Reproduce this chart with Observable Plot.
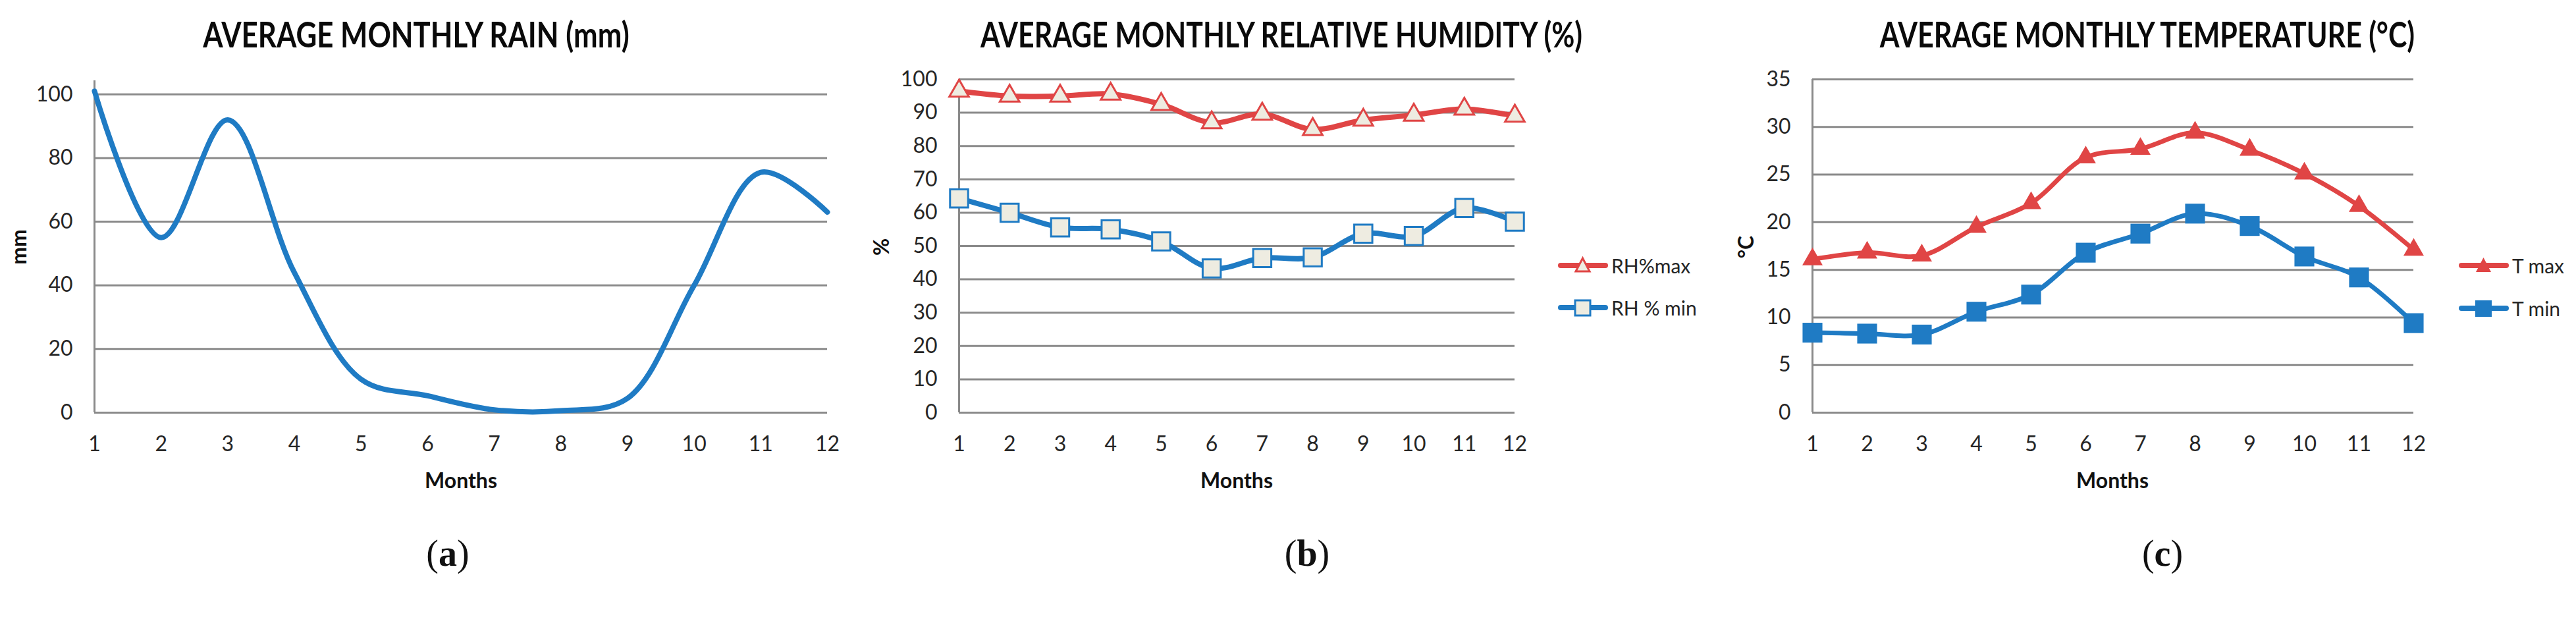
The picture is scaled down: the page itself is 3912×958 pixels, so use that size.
<!DOCTYPE html>
<html>
<head>
<meta charset="utf-8">
<script src="https://cdn.jsdelivr.net/npm/d3@7"></script>
<script src="https://cdn.jsdelivr.net/npm/@observablehq/plot@0.6"></script>
<style>
  body { margin: 0; background: #fff; }
  #fig { position: relative; width: 3912px; height: 958px; overflow: hidden; font-family: Lato, sans-serif; color: #262626; background: #fff; }
  .abs { position: absolute; transform: translate(-50%, -50%); white-space: nowrap; }
  .title { font-weight: bold; font-size: 54px; color: #0a0a0a; line-height: 1; }
  .axlab { font-weight: bold; font-size: 32px; color: #111; }
  .ylab { font-weight: bold; font-size: 32px; color: #111; transform: translate(-50%, -50%) rotate(-90deg); }
  .cap { font-family: "Liberation Serif", serif; font-size: 56px; color: #111; }
  .plot { position: absolute; top: 0; }
  .legend { position: absolute; display: flex; align-items: center; font-size: 30px; color: #262626; height: 40px; }
  .legend svg { display: block; margin-right: 5px; }
</style>
</head>
<body>
<div id="fig"></div>
<script>
// ---- data ----
const months = [1, 2, 3, 4, 5, 6, 7, 8, 9, 10, 11, 12];
const rain = [101, 55, 92, 44, 10.5, 5.3, 0.9, 0.6, 4.5, 40, 75.5, 63];
const rhMax = [96.5, 95, 95, 95.6, 92.5, 87, 89.6, 85, 87.8, 89.3, 91.1, 89];
const rhMin = [64.3, 60, 55.6, 55, 51.4, 43.3, 46.4, 46.6, 53.7, 53, 61.4, 57.3];
const tMax = [16.1, 16.8, 16.5, 19.5, 22, 26.8, 27.7, 29.4, 27.6, 25.1, 21.7, 17.1];
const tMin = [8.4, 8.3, 8.2, 10.6, 12.4, 16.8, 18.8, 20.9, 19.6, 16.4, 14.2, 9.4];
const rainTicks = [0, 20, 40, 60, 80, 100];
const rhTicks = [0, 10, 20, 30, 40, 50, 60, 70, 80, 90, 100];
const tTicks = [0, 5, 10, 15, 20, 25, 30, 35];

const RED = "#E04545";
const BLUE = "#1F7BC4";
const BEIGE = "#EEECE1";
const GRID = "#8a8a8a";

const fig = document.getElementById("fig");
const tbl = (vals) => months.map((m, i) => ({month: m, value: vals[i]}));
const m0 = d3.min(months), m1 = d3.max(months);

function panel({left, width, marginLeft, marginRight, marginTop, yDomain, yTicks, marks}) {
  const svg = Plot.plot({
    width, height: 700,
    marginLeft, marginRight, marginTop, marginBottom: 74,
    style: {fontFamily: "Lato, sans-serif", fontSize: "32px", color: "#262626", background: "transparent", overflow: "visible"},
    x: {domain: [m0, m1], ticks: months, tickSize: 0, tickPadding: 36, label: null, tickFormat: d => String(d)},
    y: {domain: yDomain, ticks: yTicks, tickSize: 0, tickPadding: 33, label: null},
    marks: [
      Plot.ruleY(yTicks, {x1: m0, x2: m1, stroke: GRID, strokeWidth: 3}),
      Plot.ruleX([m0], {y1: yDomain[0], y2: yDomain[1], stroke: GRID, strokeWidth: 3}),
      ...marks
    ]
  });
  svg.classList.add("plot");
  svg.style.left = left + "px";
  fig.appendChild(svg);
}

function text(cls, x, y, str, fitWidth) {
  const d = document.createElement("div");
  d.className = "abs " + cls;
  d.style.left = x + "px";
  d.style.top = y + "px";
  d.innerHTML = str;
  fig.appendChild(d);
  if (fitWidth) {
    const w = d.offsetWidth;
    d.style.transform = `translate(-50%, -50%) scaleX(${fitWidth / w})`;
  }
}

function legend(x, y, label, color, symbol, filled) {
  const d = document.createElement("div");
  d.className = "legend";
  d.style.left = x + "px";
  d.style.top = (y - 20) + "px";
  const sym = symbol === "triangle"
    ? `<path d="M37.5,${filled ? 8 : 9} L${filled ? 49 : 48},${filled ? 30 : 29} L${filled ? 26 : 27},${filled ? 30 : 29} Z" fill="${filled ? color : BEIGE}" stroke="${color}" stroke-width="${filled ? 0 : 3}"/>`
    : `<rect x="${filled ? 25 : 26}" y="${filled ? 8 : 9}" width="${filled ? 25 : 23}" height="${filled ? 25 : 23}" fill="${filled ? color : BEIGE}" stroke="${color}" stroke-width="${filled ? 0 : 3}"/>`;
  d.innerHTML = `<svg width="76" height="40"><line x1="4" x2="72" y1="20" y2="20" stroke="${color}" stroke-width="8" stroke-linecap="round"/>${sym}</svg><span>${label}</span>`;
  fig.appendChild(d);
}

// ---- (a) rain ----
panel({
  left: 0, width: 1300, marginLeft: 143, marginRight: 44, marginTop: 122,
  yDomain: [0, 104.3], yTicks: rainTicks,
  marks: [
    Plot.line(tbl(rain), {x: "month", y: "value", curve: "catmull-rom", stroke: BLUE, strokeWidth: 8})
  ]
});
text("title", 632, 52, "AVERAGE MONTHLY RAIN (mm)", 647);
text("ylab", 27, 375, "mm");
text("axlab", 700, 728, "Months");
text("cap", 680, 840, "(<b>a</b>)");

// ---- (b) relative humidity ----
panel({
  left: 1300, width: 1300, marginLeft: 156, marginRight: 300, marginTop: 120,
  yDomain: [0, 100], yTicks: rhTicks,
  marks: [
    Plot.line(tbl(rhMax), {x: "month", y: "value", curve: "catmull-rom", stroke: RED, strokeWidth: 8}),
    Plot.line(tbl(rhMin), {x: "month", y: "value", curve: "catmull-rom", stroke: BLUE, strokeWidth: 8}),
    Plot.dot(tbl(rhMax), {x: "month", y: "value", symbol: "triangle", r: 11, fill: BEIGE, stroke: RED, strokeWidth: 3}),
    Plot.dot(tbl(rhMin), {x: "month", y: "value", symbol: "square", r: 15.5, fill: BEIGE, stroke: BLUE, strokeWidth: 3})
  ]
});
text("title", 1946, 52, "AVERAGE MONTHLY RELATIVE HUMIDITY (%)", 914);
text("ylab", 1337, 375, "%");
text("axlab", 1878, 728, "Months");
text("cap", 1985, 840, "(<b>b</b>)");
legend(2366, 403, "RH%max", RED, "triangle", false);
legend(2366, 467, "RH % min", BLUE, "square", false);

// ---- (c) temperature ----
panel({
  left: 2600, width: 1312, marginLeft: 152, marginRight: 247, marginTop: 120,
  yDomain: [0, 35], yTicks: tTicks,
  marks: [
    Plot.line(tbl(tMax), {x: "month", y: "value", curve: "catmull-rom", stroke: RED, strokeWidth: 7}),
    Plot.line(tbl(tMin), {x: "month", y: "value", curve: "catmull-rom", stroke: BLUE, strokeWidth: 7}),
    Plot.dot(tbl(tMax), {x: "month", y: "value", symbol: "triangle", r: 11.5, fill: RED, stroke: "none"}),
    Plot.dot(tbl(tMin), {x: "month", y: "value", symbol: "square", r: 17, fill: BLUE, stroke: "none"})
  ]
});
text("title", 3261, 52, "AVERAGE MONTHLY TEMPERATURE (°C)", 812);
text("ylab", 2650, 375, "°C");
text("axlab", 3208, 728, "Months");
text("cap", 3284, 840, "(<b>c</b>)");
legend(3734, 403, "T max", RED, "triangle", true);
legend(3734, 468, "T min", BLUE, "square", true);
</script>
</body>
</html>
